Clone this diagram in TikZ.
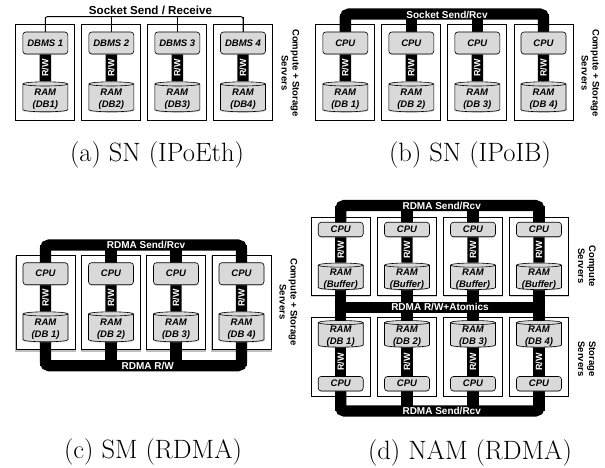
\documentclass[tikz,border=0pt]{standalone}
\usepackage{fontspec}
\setsansfont{Liberation Sans}
\usetikzlibrary{shapes.geometric, shadows, backgrounds, positioning}
\pgfdeclarelayer{servers}
\pgfsetlayers{servers,background,main}
\newcommand{\boxfont}{\sffamily\bfseries\itshape\fontsize{9.5}{12.3}\selectfont}
\newcommand{\busfont}{\sffamily\bfseries\fontsize{10}{11}\selectfont}
\tikzstyle{server}  = [rectangle, draw=black, line width=0.7pt, fill=white, minimum width=59, drop shadow={opacity=0.35, shadow xshift=0pt, shadow yshift=-1.2pt}]
\tikzstyle{shared}  = [rectangle, draw=black, line width=0.7pt, fill=white, minimum width=59, drop shadow={opacity=0.5, shadow xshift=0pt, shadow yshift=-2.2pt, shadow scale=1.025}]
\tikzstyle{cpubox}  = [rectangle, rounded corners=3pt, draw=black, line width=0.6pt, fill=black!15, minimum width=45, font=\boxfont, drop shadow={opacity=0.3, shadow xshift=0pt, shadow yshift=-1pt}]
\tikzstyle{ram}     = [cylinder, shape border rotate=90, shape aspect=0.14, draw=black, line width=0.6pt, fill=black!15, minimum width=45, inner sep=0pt, text width=30pt, text height=18pt, text depth=2pt, drop shadow={opacity=0.3, shadow xshift=0pt, shadow yshift=-1pt}]
\tikzstyle{ramtext} = [inner sep=0pt, align=center, yshift=-1.5pt, font=\boxfont]
\tikzstyle{bus}     = [line width=11.4pt, black, rounded corners=4pt]
\tikzstyle{wire}    = [line width=0.9pt, black, rounded corners=2pt]
\tikzstyle{rwlabel} = [text=white, rotate=90, inner sep=0pt, font=\sffamily\bfseries\fontsize{9}{10}\selectfont]
\tikzstyle{buslabel}= [text=white, inner sep=0pt, font=\busfont]
\tikzstyle{sidelabel}=[rotate=-90, align=center, inner sep=0pt, font=\sffamily\bfseries\fontsize{9.5}{11}\selectfont]
\tikzstyle{caption} = [inner sep=0pt, font=\fontsize{26.5}{28}\selectfont]
\begin{document}
\begin{tikzpicture}[x=1pt, y=-1pt]
\useasboundingbox (0,0) rectangle (605,468);

% (a) SN (IPoEth)
\coordinate (atop) at (144,16.7);
\foreach \i/\x in {1/45.3,2/111.3,3/177.3,4/243}{
  \begin{pgfonlayer}{servers}
    \node (aserver\i) [server, minimum height=96] at (\x,72) {};
  \end{pgfonlayer}
  \node (acpu\i) [cpubox, minimum height=22] at (\x,43) {DBMS \i};
  \node (aram\i) [ram, minimum height=30] at (\x,98) {};
  \node (atext\i) [ramtext] at (aram\i.center) {RAM\\(DB\i)};
  \begin{pgfonlayer}{background}
    \draw [wire] (acpu\i.center) -- (acpu\i |- atop);
    \draw [bus] (acpu\i) -- node[rwlabel]{R/W} (aram\i);
  \end{pgfonlayer}
}
\begin{pgfonlayer}{background}
  \draw [wire] (acpu1.center) |- (atop) -| (acpu4.center);
\end{pgfonlayer}
\node (asend) [inner sep=0pt, font=\sffamily\bfseries\fontsize{11.6}{13}\selectfont] at (150.5,10) {Socket Send / Receive};
\node (aside) [sidelabel] at (290.5,73) {Compute + Storage\\Servers};
\node (acap) [caption] at (157,155) {(a) SN (IPoEth)};

% (b) SN (IPoIB)
\coordinate (btop) at (444.5,14);
\foreach \i/\x in {1/345.3,2/411.3,3/477.3,4/543.5}{
  \begin{pgfonlayer}{servers}
    \node (bserver\i) [server, minimum height=96] at (\x,72) {};
  \end{pgfonlayer}
  \node (bcpu\i) [cpubox, minimum height=22] at (\x,43) {CPU};
  \node (bram\i) [ram, minimum height=30] at (\x,98) {};
  \node (btext\i) [ramtext] at (bram\i.center) {RAM\\(DB \i)};
  \begin{pgfonlayer}{background}
    \draw [bus] (bcpu\i.center) -- (bcpu\i |- btop);
    \draw [bus] (bcpu\i) -- node[rwlabel]{R/W} (bram\i);
  \end{pgfonlayer}
}
\begin{pgfonlayer}{background}
  \draw [bus] (bcpu1.center) |- (btop) -| (bcpu4.center);
\end{pgfonlayer}
\node (bsend) [buslabel] at (447,14.7) {Socket Send/Rcv};
\node (bside) [sidelabel] at (590.5,73) {Compute + Storage\\Servers};
\node (bcap) [caption] at (470,155) {(b) SN (IPoIB)};

% (c) SM (RDMA)
\coordinate (ctop) at (143,245);
\coordinate (cbot) at (143,365.7);
\foreach \i/\x in {1/45.5,2/111,3/176,4/241.5}{
  \begin{pgfonlayer}{servers}
    \node (cserver\i) [shared, minimum height=94] at (\x,302) {};
  \end{pgfonlayer}
  \node (ccpu\i) [cpubox, minimum height=22] at (\x,273.7) {CPU};
  \node (cram\i) [ram, minimum height=30] at (\x,328) {};
  \node (ctext\i) [ramtext] at (cram\i.center) {RAM\\(DB \i)};
  \begin{pgfonlayer}{background}
    \draw [bus] (ccpu\i.center) -- (ccpu\i |- ctop);
    \draw [bus] (ccpu\i) -- node[rwlabel]{R/W} (cram\i);
    \draw [bus] (cram\i.center) -- (cram\i |- cbot);
  \end{pgfonlayer}
}
\begin{pgfonlayer}{background}
  \draw [bus] (ccpu1.center) |- (ctop) -| (ccpu4.center);
  \draw [bus] (cram1.center) |- (cbot) -| (cram4.center);
\end{pgfonlayer}
\node (csend) [buslabel] at (146,245) {RDMA Send/Rcv};
\node (cread) [buslabel] at (147.7,365.7) {RDMA R/W};
\node (cside) [sidelabel] at (288.4,302) {Compute + Storage\\Servers};
\node (ccap) [caption] at (153,451.7) {(c) SM (RDMA)};

% (d) NAM (RDMA)
\coordinate (dtop) at (440,205.5);
\coordinate (dmid) at (440,307.5);
\coordinate (dbot) at (440,411);
\foreach \i/\x in {1/340.7,2/407,3/473,4/539}{
  \begin{pgfonlayer}{servers}
    \node (dserver\i) [server, minimum height=78] at (\x,256.5) {};
    \node (dstore\i) [server, minimum height=79] at (\x,356.7) {};
  \end{pgfonlayer}
  \node (dcpu\i) [cpubox, minimum height=14.5] at (\x,229.5) {CPU};
  \node (dbuf\i) [ram, minimum height=25] at (\x,277.5) {};
  \node (dbtext\i) [ramtext] at (dbuf\i.center) {RAM\\(Buffer)};
  \node (dram\i) [ram, minimum height=25] at (\x,335) {};
  \node (dtext\i) [ramtext] at (dram\i.center) {RAM\\(DB \i)};
  \node (dcpb\i) [cpubox, minimum height=14.5] at (\x,383.7) {CPU};
  \begin{pgfonlayer}{background}
    \draw [bus] (dcpu\i.center) -- (dcpu\i |- dtop);
    \draw [bus] (dcpu\i) -- node[rwlabel]{R/W} (dbuf\i);
    \draw [bus] (dbuf\i.center) -- (dram\i.center);
    \draw [bus] (dram\i) -- node[rwlabel]{R/W} (dcpb\i);
    \draw [bus] (dcpb\i.center) -- (dcpb\i |- dbot);
  \end{pgfonlayer}
}
\begin{pgfonlayer}{background}
  \draw [bus] (dcpu1.center) |- (dtop) -| (dcpu4.center);
  \draw [bus] (dbuf1.center |- dmid) -- (dbuf4.center |- dmid);
  \draw [bus] (dcpb1.center) |- (dbot) -| (dcpb4.center);
\end{pgfonlayer}
\node (dsend) [buslabel] at (441.7,205.7) {RDMA Send/Rcv};
\node (dread) [buslabel] at (440,307.3) {RDMA R/W+Atomics};
\node (dback) [buslabel] at (441.7,410.7) {RDMA Send/Rcv};
\node (dside) [sidelabel] at (587,266) {Compute\\Servers};
\node (dstoreside) [sidelabel] at (587,359) {Storage\\Servers};
\node (dcap) [caption] at (470,453) {(d) NAM (RDMA)};

\end{tikzpicture}
\end{document}
